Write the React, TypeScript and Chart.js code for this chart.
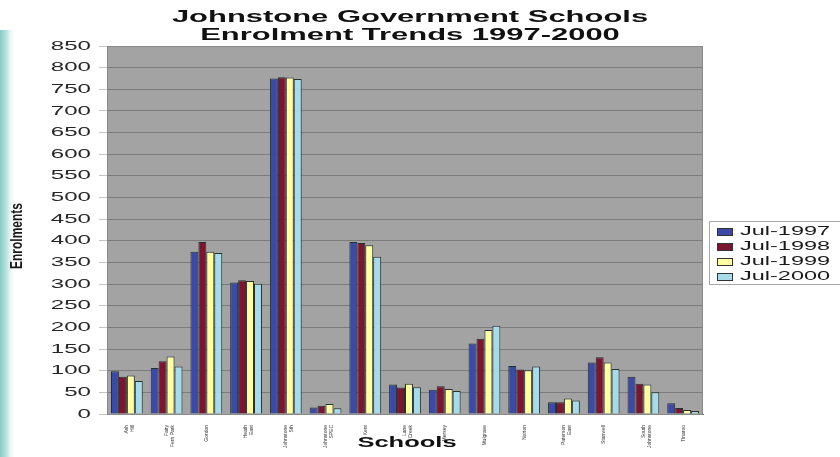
import React, { useEffect, useRef } from "react";
import { Chart, registerables } from "chart.js";

Chart.register(...registerables);

// School names along the category axis (two short lines each)
const schools: string[][] = [
  ["Ash", "Hill"],
  ["Fairy", "Fern Park"],
  ["Gordon"],
  ["Heath", "East"],
  ["Johnstone", "Sth"],
  ["Johnstone", "SPEC"],
  ["Kent"],
  ["Lane", "Creek"],
  ["Mersey"],
  ["Mulgrave"],
  ["Norton"],
  ["Paterson", "East"],
  ["Stanwell"],
  ["South", "Johnstone"],
  ["Tinaroo"],
];

const seriesNames = ["Jul-1997", "Jul-1998", "Jul-1999", "Jul-2000"];

const jul1997 = [99, 106, 375, 304, 775, 15, 397, 68, 56, 163, 111, 27, 119, 86, 25];
const jul1998 = [86, 122, 397, 309, 778, 19, 395, 61, 64, 174, 103, 27, 131, 70, 14];
const jul1999 = [89, 133, 375, 307, 777, 23, 390, 70, 58, 194, 101, 36, 119, 68, 9];
const jul2000 = [76, 110, 372, 301, 774, 13, 363, 62, 53, 204, 110, 31, 104, 50, 7];

const seriesColors = ["#3b4aa6", "#7c1630", "#ffffa2", "#a5dbea"];

const yMin = 0;
const yMax = 850;
const yStep = 50;

const titleLines = ["Johnstone Government Schools", "Enrolment Trends 1997-2000"];
const xTitle = "Schools";
const yTitle = "Enrolments";

const FONT = "'Liberation Sans', Arial, sans-serif";

// Text drawn with a horizontal stretch factor
function stretchedText(
  ctx: CanvasRenderingContext2D,
  text: string,
  x: number,
  y: number,
  font: string,
  sx: number,
  align: CanvasTextAlign,
  color: string
) {
  ctx.save();
  ctx.translate(x, y);
  ctx.scale(sx, 1);
  ctx.font = font;
  ctx.textAlign = align;
  ctx.textBaseline = "middle";
  ctx.fillStyle = color;
  ctx.fillText(text, 0, 0);
  ctx.restore();
}

const decorPlugin = {
  id: "decor",
  beforeDraw(chart: any) {
    const { ctx, width, height, chartArea } = chart;
    ctx.save();
    ctx.fillStyle = "#ffffff";
    ctx.fillRect(0, 0, width, height);
    // tinted strip on the left edge
    const g = ctx.createLinearGradient(0, 0, 16, 0);
    g.addColorStop(0, "#86cbc4");
    g.addColorStop(0.4, "#b9e2de");
    g.addColorStop(1, "rgba(255,255,255,0)");
    ctx.fillStyle = g;
    ctx.fillRect(0, 30, 16, height - 30);
    // plot area background
    ctx.fillStyle = "#a3a3a3";
    ctx.fillRect(chartArea.left, chartArea.top, chartArea.right - chartArea.left, chartArea.bottom - chartArea.top);
    ctx.restore();
  },
  afterDraw(chart: any) {
    const { ctx, chartArea } = chart;
    const yScale = chart.scales.y;

    // plot frame
    ctx.save();
    ctx.strokeStyle = "#8a8a8a";
    ctx.lineWidth = 1;
    ctx.strokeRect(chartArea.left + 0.5, chartArea.top + 0.5, chartArea.right - chartArea.left - 1, chartArea.bottom - chartArea.top);
    ctx.restore();

    // title
    stretchedText(ctx, titleLines[0], 410, 17, `bold 17px ${FONT}`, 1.82, "center", "#111111");
    stretchedText(ctx, titleLines[1], 410, 35, `bold 17px ${FONT}`, 1.82, "center", "#111111");

    // value axis labels
    yScale.ticks.forEach((t: any, i: number) => {
      const py = yScale.getPixelForTick(i);
      stretchedText(ctx, String(t.value), 91, py, `13px ${FONT}`, 1.85, "right", "#262626");
    });

    // axis titles
    stretchedText(ctx, xTitle, 407, 443, `bold 15px ${FONT}`, 1.7, "center", "#111111");
    ctx.save();
    ctx.translate(18, 236);
    ctx.scale(1.3, 1);
    ctx.rotate(-Math.PI / 2);
    ctx.font = `bold 12px 'Liberation Sans Narrow', ${FONT}`;
    ctx.textAlign = "center";
    ctx.textBaseline = "middle";
    ctx.fillStyle = "#1a1a1a";
    ctx.fillText(yTitle, 0, 0);
    ctx.restore();

    // legend
    ctx.save();
    ctx.strokeStyle = "#a8a8a8";
    ctx.lineWidth = 1;
    ctx.strokeRect(709.5, 221.5, 140, 63);
    ctx.restore();
    seriesNames.forEach((name, i) => {
      const cy = 231.5 + i * 15;
      ctx.save();
      ctx.fillStyle = seriesColors[i];
      ctx.fillRect(717, cy - 3.5, 16, 7);
      ctx.strokeStyle = "#333";
      ctx.lineWidth = 1;
      ctx.strokeRect(717.5, cy - 3, 15, 7);
      ctx.restore();
      stretchedText(ctx, name, 740, cy, `13.5px ${FONT}`, 1.74, "left", "#1a1a1a");
    });
  },
};

export default function App() {
  const canvasRef = useRef<HTMLCanvasElement | null>(null);

  useEffect(() => {
    if (!canvasRef.current) return;
    const values = [jul1997, jul1998, jul1999, jul2000];
    const chart = new Chart(canvasRef.current, {
      type: "bar",
      data: {
        labels: schools,
        datasets: seriesNames.map((name, i) => ({
          label: name,
          data: values[i],
          backgroundColor: seriesColors[i],
          borderColor: "#263030",
          borderWidth: 1,
          barPercentage: 1,
          categoryPercentage: 0.8,
        })),
      },
      options: {
        responsive: false,
        animation: false,
        devicePixelRatio: 1,
        layout: { padding: { left: 99, right: 137, top: 46, bottom: 0 } },
        plugins: {
          legend: { display: false },
          title: { display: false },
          tooltip: { enabled: false },
        },
        scales: {
          x: {
            grid: { display: false },
            border: { display: true, color: "#6a6a6a" },
            ticks: {
              autoSkip: false,
              minRotation: 90,
              maxRotation: 90,
              padding: 3,
              color: "#333333",
              font: { size: 5, family: FONT },
            },
            afterFit: (s: any) => {
              s.height = 43;
            },
          },
          y: {
            min: yMin,
            max: yMax,
            ticks: { stepSize: yStep, display: false },
            grid: { color: "#7b7b7b", tickColor: "#c4c4c4", tickLength: 8, drawTicks: true },
            border: { display: false },
            afterFit: (s: any) => {
              s.width = 8;
            },
          },
        },
      },
      plugins: [decorPlugin],
    });
    return () => chart.destroy();
  }, []);

  return (
    <div style={{ position: "absolute", left: 0, top: 0, width: 840, height: 457 }}>
      <canvas ref={canvasRef} width={840} height={457} style={{ display: "block" }} />
    </div>
  );
}
